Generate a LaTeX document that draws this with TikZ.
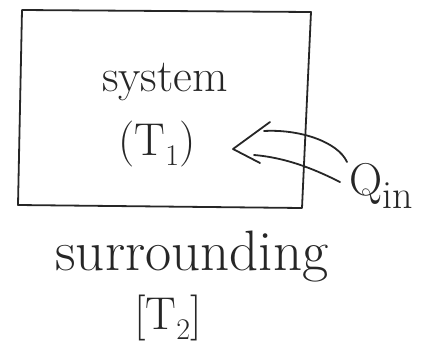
\documentclass[tikz,border=0pt]{standalone}
\usetikzlibrary{calc}
\newcommand{\lowsub}[2][-0.22em]{\raisebox{#1}{#2}}
\begin{document}
\begin{tikzpicture}[x=1pt,y=-1pt,
  ink/.style={line width=1.8pt, line cap=round, line join=round, draw=black!85},
  lbl/.style={inner sep=0pt, text=black!85},
  big/.style={lbl, font=\fontsize{46}{50}\selectfont},
  huge/.style={lbl, font=\fontsize{57}{62}\selectfont}]
  \useasboundingbox (0,0) rectangle (437,349);

  % system boundary
  \draw[ink] (22,10) -- (311,12) -- (302,208) -- (18,205) -- cycle;

  % labels
  \node[big]  (sys) at (165,82)  {system};
  \node[big]  (t1)  at (157,144) {(T\lowsub{\fontsize{30}{32}\selectfont 1})};
  \node[big, anchor=west] (qin) at (349,186)
        {Q\lowsub[-0.3em]{\fontsize{40}{44}\selectfont in}};
  \node[huge] (sur) at (192,257) {surrounding};
  \node[big]  (t2)  at (168,318) {[T\lowsub{\fontsize{30}{32}\selectfont 2}]};

  % heat input arrow: open double-line shaft with a barbed head
  \coordinate (tip)  at (233,149);
  \coordinate (up)   at (264,131);
  \coordinate (lo)   at (254,155);
  \coordinate (bu)   at (270,122);
  \coordinate (bl)   at (260,163);
  \coordinate (qa)   at ($(qin.west)+(-2,-24)$);
  \coordinate (qb)   at ($(qin.west)+(-9,-4)$);
  \draw[ink] (qa) .. controls (338,142) and (300,129) .. (up);
  \draw[ink] (qb) .. controls (320,172) and (290,158) .. (lo);
  \draw[ink] (bu) -- (tip) -- (bl);
\end{tikzpicture}
\end{document}
